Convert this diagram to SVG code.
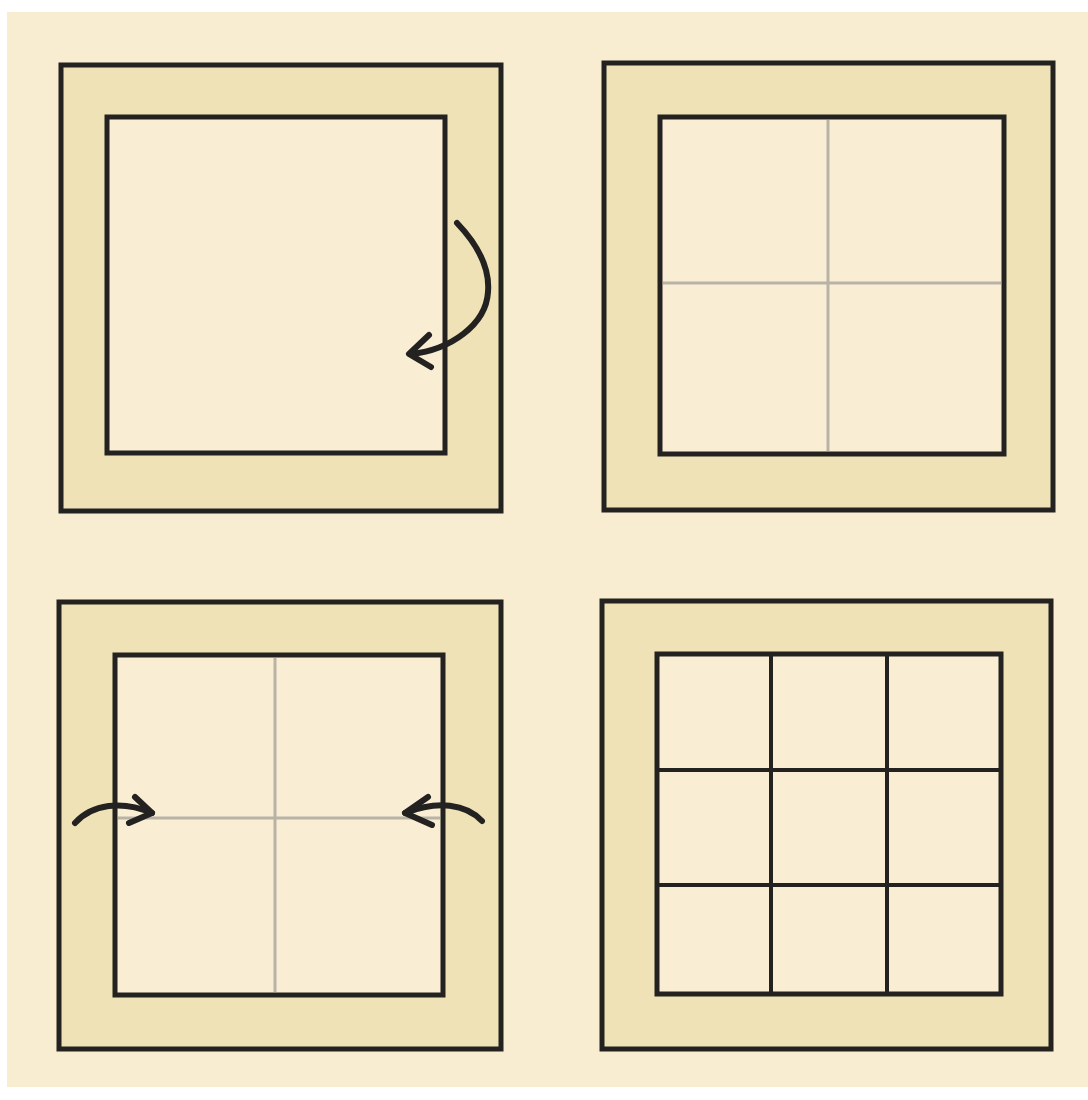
<svg xmlns="http://www.w3.org/2000/svg" width="1088" height="1100" viewBox="0 0 1088 1100">
<style>
.mat{fill:#F0E2B7;stroke:#232220;stroke-width:5;stroke-linejoin:miter}
.win{fill:#F9EED4;stroke:#232220;stroke-width:5}
.guide{stroke:#B9B3A5;stroke-width:3;fill:none}
.grid{stroke:#232220;stroke-width:4;fill:none}
.arrow{stroke:#232220;stroke-width:6;fill:none;stroke-linecap:round;stroke-linejoin:round}
</style>
<rect x="0" y="0" width="1088" height="1100" fill="#FFFFFF"/>
<rect x="7" y="12" width="1081" height="1075" fill="#F8EDD1"/>
<g id="panel1">
<rect class="mat" x="61" y="65" width="440" height="446"/>
<rect class="win" x="107" y="117" width="338" height="336"/>
</g>
<g id="panel2">
<rect class="mat" x="604" y="63" width="449" height="447"/>
<rect class="win" x="660" y="117" width="344" height="337"/>
<line class="guide" x1="828" y1="120" x2="828" y2="451"/>
<line class="guide" x1="663" y1="283" x2="1001" y2="283"/>
</g>
<g id="panel3">
<rect class="mat" x="59" y="602" width="442" height="447"/>
<rect class="win" x="115" y="655" width="328" height="340"/>
<line class="guide" x1="275" y1="658" x2="275" y2="992"/>
<line class="guide" x1="118" y1="818" x2="440" y2="818"/>
</g>
<g id="panel4">
<rect class="mat" x="602" y="601" width="449" height="448"/>
<rect class="win" x="657" y="654" width="344" height="340"/>
<line class="grid" x1="771" y1="654" x2="771" y2="994"/>
<line class="grid" x1="887" y1="654" x2="887" y2="994"/>
<line class="grid" x1="657" y1="770" x2="1001" y2="770"/>
<line class="grid" x1="657" y1="885" x2="1001" y2="885"/>
</g>
<g id="connectors">
<path class="arrow" d="M457,223 C478,245 490,268 488,292 C486,325 450,350 411,354"/>
<path class="arrow" d="M429,335 L409,354 L431,367"/>
<path class="arrow" d="M75,823 C92,804 122,800 152,813"/>
<path class="arrow" d="M135,797 L152,813 L129,823"/>
<path class="arrow" d="M482,821 C466,804 438,800 405,813"/>
<path class="arrow" d="M428,797 L405,813 L432,825"/>
</g>
</svg>
